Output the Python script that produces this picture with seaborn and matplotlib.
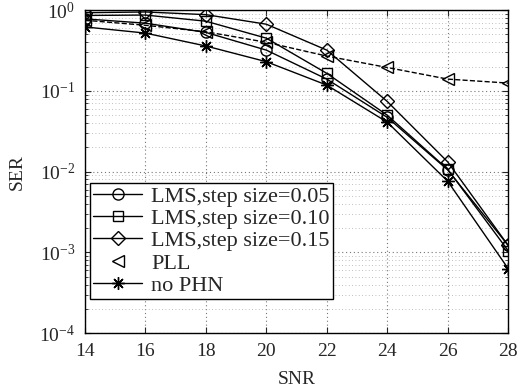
import matplotlib
matplotlib.use("Agg")
import matplotlib.pyplot as plt
import seaborn as sns
import pandas as pd
import numpy as np
from matplotlib.ticker import LogLocator, NullFormatter

snr = [14, 16, 18, 20, 22, 24, 26, 28]
lms_005 = [0.78, 0.69, 0.53, 0.32, 0.14, 0.047, 0.0105, 0.00122]
lms_010 = [0.86, 0.87, 0.73, 0.45, 0.165, 0.050, 0.0107, 0.00105]
lms_015 = [0.93, 0.95, 0.88, 0.67, 0.32, 0.074, 0.0132, 0.00122]
pll = [0.75, 0.65, 0.54, 0.40, 0.27, 0.195, 0.14, 0.125]
no_phn = [0.62, 0.52, 0.36, 0.23, 0.118, 0.041, 0.0076, 0.00063]

labels = ["LMS,step size=0.05", "LMS,step size=0.10", "LMS,step size=0.15", "PLL", "no PHN"]
series = [lms_005, lms_010, lms_015, pll, no_phn]
markers = ["o", "s", "D", "<", (8, 2, 0)]
msizes = [8, 7, 7, 9, 9]
styles = ["-", "-", "-", "--", "-"]

sns.set_style("ticks")
plt.rcParams['font.family'] = ['Liberation Serif', 'DejaVu Serif']
plt.rcParams['mathtext.fontset'] = 'stix'

fig = plt.figure(figsize=(5.31, 3.91), dpi=100)
ax = fig.add_axes([0.160, 0.148, 0.797, 0.826])

handles = []
for lab, ys, m, ms, ls in zip(labels, series, markers, msizes, styles):
    df = pd.DataFrame({"SNR": snr, "SER": ys})
    sns.lineplot(data=df, x="SNR", y="SER", ax=ax, color="black", linewidth=1.0,
                 linestyle=ls, marker=m, markersize=ms,
                 markerfacecolor="none", markeredgecolor="black", markeredgewidth=1.0)
    if lab == "PLL":
        h = plt.Line2D([], [], color="black", linestyle="none", marker=m, markersize=ms,
                       markerfacecolor="none", markeredgecolor="black")
    else:
        h = plt.Line2D([], [], color="black", linestyle="-", linewidth=1.0, marker=m,
                       markersize=ms, markerfacecolor="none", markeredgecolor="black")
    handles.append(h)

ax.set_yscale("log")
ax.set_xlim(14, 28)
ax.set_ylim(1e-4, 1)
ax.set_xticks([14, 16, 18, 20, 22, 24, 26, 28])
ax.yaxis.set_major_locator(LogLocator(base=10, numticks=10))
ax.yaxis.set_minor_locator(LogLocator(base=10, subs=np.arange(2, 10), numticks=20))
ax.yaxis.set_minor_formatter(NullFormatter())
ax.grid(True, which="major", color="#777777", linestyle=(0, (1, 2.5)), linewidth=0.8)
ax.grid(True, which="minor", axis="y", color="#aaaaaa", linestyle=(0, (1, 3)), linewidth=0.6)
ax.tick_params(which="both", direction="in", top=True, right=True, labelsize=14, pad=7)
ax.tick_params(which="major", length=4)
ax.tick_params(which="minor", length=2)
for s in ax.spines.values():
    s.set_color("black")
    s.set_linewidth(1.0)
ax.set_xlabel("SNR", fontsize=14, labelpad=8)
ax.set_ylabel("SER", fontsize=14, labelpad=10)

leg = ax.legend(handles, labels, loc="upper left", bbox_to_anchor=(0.012, 0.466),
                fontsize=16, frameon=True, fancybox=False, edgecolor="black",
                framealpha=1, borderpad=0.15, labelspacing=0.08, handlelength=2.2,
                handletextpad=0.4, borderaxespad=0)
leg.get_frame().set_linewidth(1.0)

fig.savefig("out.png", dpi=100)
